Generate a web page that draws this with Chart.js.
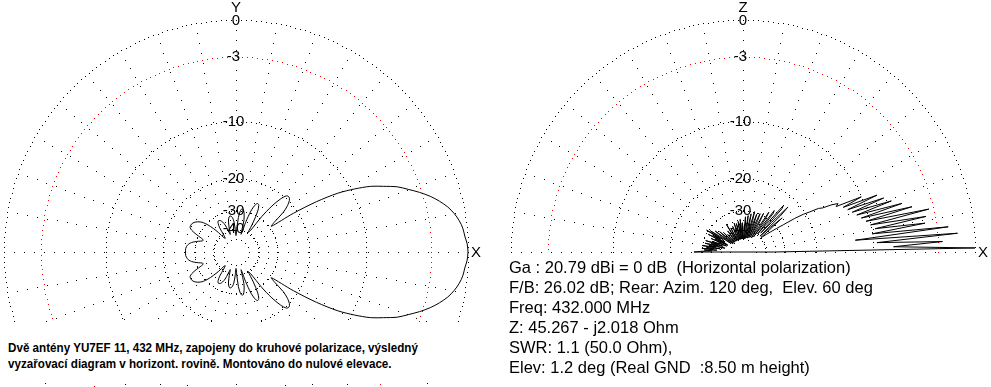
<!DOCTYPE html>
<html>
<head>
<meta charset="utf-8">
<script src="https://cdn.jsdelivr.net/npm/chart.js@4/dist/chart.umd.min.js"></script>
<style>
html,body{margin:0;padding:0;background:#fff;}
#wrap{position:relative;width:991px;height:387px;overflow:hidden;background:#fff;}
#c{position:absolute;left:0;top:0;}
#coverL{position:absolute;left:0;top:322px;width:490px;height:61px;background:#fff;}
#note{position:absolute;left:8px;top:340px;font:bold 12px "Liberation Sans",Arial,sans-serif;line-height:16px;white-space:pre;color:#000;transform:scaleX(0.97);transform-origin:0 0;}
#info{position:absolute;left:509px;top:257px;font:16.5px "Liberation Sans",Arial,sans-serif;line-height:20px;white-space:pre;color:#000;}
</style>
</head>
<body>
<div id="wrap">
  <canvas id="c" width="991" height="387"></canvas>
  <div id="coverL"></div>
  <div id="note">Dvě antény YU7EF 11, 432 MHz, zapojeny do kruhové polarizace, výsledný
vyzařovací diagram v horizont. rovině. Montováno do nulové elevace.</div>
  <div id="info">Ga : 20.79 dBi = 0 dB  (Horizontal polarization)
F/B: 26.02 dB; Rear: Azim. 120 deg,  Elev. 60 deg
Freq: 432.000 MHz
Z: 45.267 - j2.018 Ohm
SWR: 1.1 (50.0 Ohm),
Elev: 1.2 deg (Real GND  :8.50 m height)</div>
</div>
<script>
// ring levels (dB) and their labels
const ringLevels = [0, -3, -10, -20, -30, -40, -50];
const ringLabels = ['0', '-3', '-10', '-20', '-30', '-40', ''];
const spokeStepDeg = 10;
const minDb = -50;

// horizontal (azimuth) pattern, 0..180 deg every 2 deg, mirrored for 180..360
const azimuthStepDeg = 2;
const azimuthGain = [
  0, -0.05, -0.2, -0.3, -0.5, -0.8, -1.2, -1.75, -2.4, -3.2,
  -4.1, -5.0, -6.3, -7.6, -9.5, -11.8, -15.5, -21, -29, -27,
  -23, -21, -19.8, -19.3, -19.5, -21, -24, -29, -38, -40,
  -33, -28, -26, -25.6, -26.5, -29, -35, -44, -34, -31,
  -29.3, -29, -30, -33, -40, -46, -40, -35, -33, -32.3,
  -32.2, -33, -35, -39, -44, -40, -36, -34, -33, -32.5,
  -32.5, -33.5, -36, -42, -45, -44, -38, -34, -31, -29,
  -27.8, -27, -26.4, -26, -25.8, -25.8, -26, -27, -29, -31.5,
  -33, -32.5, -31, -29.5, -28.3, -27.5, -27, -26.7, -26.5, -26.5,
  -26.5
];

// vertical (elevation) pattern, 0..180 deg every 1 deg
const elevationStepDeg = 1;
const elevationGain = [
  -35, 0, -7.5, -2.6, -9.5, -1.3, -12.5, -2, -10, -4,
  -9.5, -3.8, -10, -3.4, -10.5, -4.9, -11, -5.8, -11.5, -6.8,
  -12, -7.5, -12.5, -8.1, -13, -10, -14, -13.5, -14.5, -16.3,
  -17, -19, -20.5, -23, -27, -30, -33, -36, -39, -40,
  -33, -26, -32, -40, -26, -22.5, -30, -38, -24, -23,
  -32, -40, -27, -26, -35, -44, -30, -27.6, -36, -46,
  -42, -33, -29, -38, -46, -33, -29.7, -36, -47, -35,
  -30.5, -38, -48, -34, -29.7, -40, -48, -36, -31, -42,
  -49, -36, -32, -43, -50, -37, -32.7, -41, -50, -44,
  -44, -36, -48, -50, -40, -34, -46, -50, -42, -35,
  -48, -50, -44, -36, -50, -50, -45, -35.4, -48, -50,
  -50, -42, -37, -46, -50, -50, -44, -38, -48, -50,
  -44, -34.2, -45, -50, -50, -43, -38, -47, -50, -50,
  -45, -40, -48, -50, -44, -37, -46, -50, -42, -35,
  -44, -50, -40, -33, -42, -48, -36, -31, -40, -29.5,
  -38, -33, -42, -31, -44, -35, -46, -33, -40, -38,
  -45, -34, -39, -31, -42, -34, -38, -31, -44, -33,
  -37, -30, -40, -32, -36, -30, -38, -31, -35, -30,
  -27
];

// layout of the two diagrams (1 plot unit = outer ring radius)
const pxPerUnit = 232;
const leftCenterPx = 236, rightCenterPx = 743, baselinePx = 252;
const cxLeft = 0;
const cxRight = (rightCenterPx - leftCenterPx) / pxPerUnit;

function rho(db) {
  return Math.pow(10, Math.max(db, minDb) / 40);
}

function polarPoints(gains, stepDeg, cx) {
  return gains.map((g, i) => {
    const a = i * stepDeg * Math.PI / 180;
    return { x: cx + rho(g) * Math.cos(a), y: rho(g) * Math.sin(a) };
  });
}

// full azimuth loop: upper half then mirrored lower half
const azUpper = polarPoints(azimuthGain, azimuthStepDeg, cxLeft);
const azLower = azUpper.slice(0, -1).reverse().map(p => ({ x: p.x, y: -p.y }));
const azimuthData = azUpper.concat(azLower);

const elData = polarPoints(elevationGain, elevationStepDeg, cxRight);
elData.push(elData[0]);

const diagrams = [
  { cx: cxLeft, half: false, axis: 'Y' },
  { cx: cxRight, half: true, axis: 'Z' }
];

function dots(ctx, cx, cy, r, half, spacing) {
  const n = Math.max(8, Math.round(2 * Math.PI * r / spacing));
  for (let k = 0; k < n; k++) {
    const a = 2 * Math.PI * k / n;
    if (half && Math.sin(a) < -1e-6) continue;
    ctx.fillRect(Math.round(cx + r * Math.cos(a)), Math.round(cy - r * Math.sin(a)), 1, 1);
  }
}

const polarGrid = {
  id: 'polarGrid',
  beforeDatasetsDraw(chart) {
    const { ctx, scales: { x, y } } = chart;
    const cy = y.getPixelForValue(0);
    ctx.save();
    diagrams.forEach(d => {
      const cx = x.getPixelForValue(d.cx);
      const unit = x.getPixelForValue(d.cx + 1) - cx;
      ringLevels.forEach(lv => {
        ctx.fillStyle = lv === -3 ? '#ff0000' : '#000000';
        dots(ctx, cx, cy, rho(lv) * unit, d.half, 5);
      });
      ctx.fillStyle = '#000000';
      const rIn = rho(minDb) * unit, rOut = unit;
      const last = d.half ? 180 : 350;
      for (let deg = 0; deg <= last; deg += spokeStepDeg) {
        const a = deg * Math.PI / 180;
        for (let r = rOut - 10; r > rIn + 2; r -= 10) {
          ctx.fillRect(Math.round(cx + r * Math.cos(a)), Math.round(cy - r * Math.sin(a)), 1, 1);
        }
      }
    });
    ctx.restore();
  },
  afterDatasetsDraw(chart) {
    const { ctx, scales: { x, y } } = chart;
    const cy = y.getPixelForValue(0);
    ctx.save();
    ctx.fillStyle = '#000';
    ctx.font = '15px "Liberation Sans", Arial, sans-serif';
    ctx.textBaseline = 'middle';
    diagrams.forEach(d => {
      const cx = x.getPixelForValue(d.cx);
      const unit = x.getPixelForValue(d.cx + 1) - cx;
      ringLevels.forEach((lv, i) => {
        const txt = ringLabels[i];
        if (!txt) return;
        const digits = txt.replace('-', '');
        const dw = ctx.measureText(digits).width;
        const mw = txt.length > digits.length ? ctx.measureText('-').width : 0;
        ctx.textAlign = 'left';
        ctx.fillText(txt, cx - dw / 2 - mw, cy - rho(lv) * unit + 0.5);
      });
      ctx.textAlign = 'center';
      ctx.fillText(d.axis, cx, cy - unit - 12);
      ctx.fillText('X', cx + unit + 8, cy + 1);
    });
    ctx.restore();
  }
};

new Chart(document.getElementById('c'), {
  type: 'scatter',
  data: {
    datasets: [
      { data: azimuthData, showLine: true, borderColor: '#000', borderWidth: 1, pointRadius: 0, tension: 0.3 },
      { data: elData, showLine: true, borderColor: '#000', borderWidth: 1, pointRadius: 0, tension: 0 }
    ]
  },
  options: {
    responsive: false,
    animation: false,
    devicePixelRatio: 1,
    events: [],
    layout: { padding: 0 },
    plugins: { legend: { display: false }, tooltip: { enabled: false } },
    scales: {
      x: { type: 'linear', display: false, min: -leftCenterPx / pxPerUnit, max: (991 - leftCenterPx) / pxPerUnit },
      y: { type: 'linear', display: false, min: -(387 - baselinePx) / pxPerUnit, max: baselinePx / pxPerUnit }
    }
  },
  plugins: [polarGrid]
});
</script>
</body>
</html>
